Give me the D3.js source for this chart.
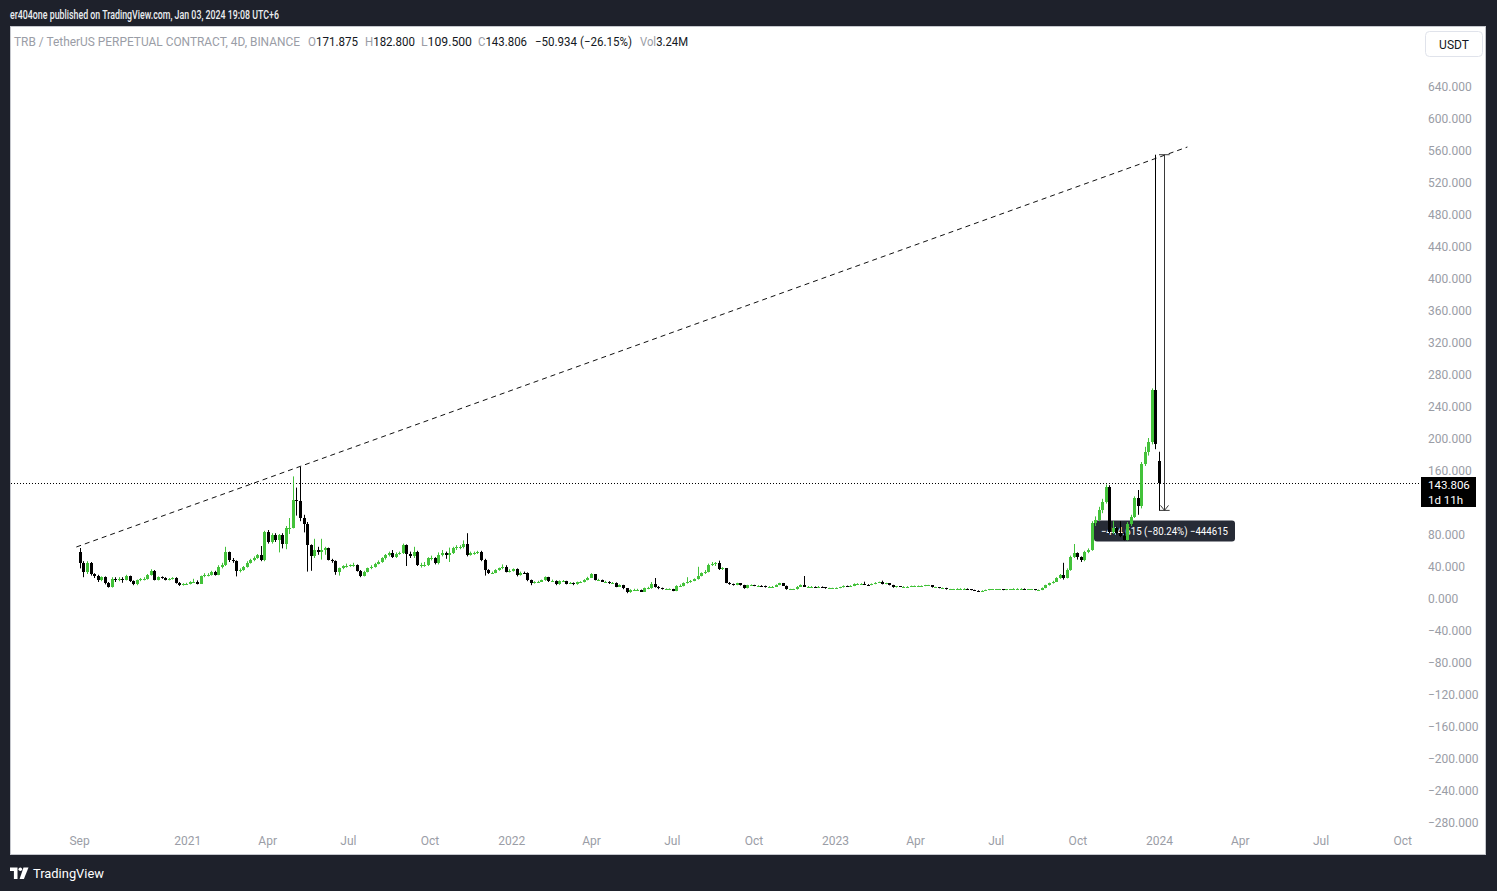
<!DOCTYPE html>
<html>
<head>
<meta charset="utf-8">
<script src="https://cdn.jsdelivr.net/npm/d3@7"></script>
<style>
  body { margin: 0; background: #1e212b; }
  svg { display: block; font-family: Roboto, 'Liberation Sans', sans-serif; }
</style>
</head>
<body>
<script>
// TRB/USDT perp, 4D candles, first candle 2020-09-02, last 2024-01-01
const firstCandle = '2020-09-02'
const candleDays = 4
// open = previous close, except where the chart shows otherwise
const openOverrides = { 0: 57, 304: 171.875 }

const closes = [
  44, 32, 44, 30, 28, 22, 26, 19, 14, 24,
  22, 24, 23, 27, 21, 17, 22, 24, 24, 29,
  34, 23, 26, 25, 23, 24, 25, 19, 16, 17.5,
  17.5, 20, 20.5, 18, 27, 29, 29, 33, 29, 39,
  41, 57, 48, 46, 34, 35, 39, 44, 47, 50,
  54, 47, 83, 70, 79, 72, 79, 68, 87, 88,
  122, 121, 100, 93, 66, 52, 60, 58, 60, 62,
  48, 46, 32, 37, 40, 40, 41, 41, 34, 27.5,
  33, 37, 39, 42.5, 45, 49.6, 53.8, 56.7, 51.7, 55,
  56, 66, 55, 52, 58, 41, 41, 41, 49.6, 49.6,
  43.3, 53.8, 56, 54, 56, 62, 64, 64, 68, 54,
  56.7, 56.7, 58, 48, 35, 31.7, 31.7, 35, 37, 39,
  33, 34, 36, 28.8, 31.7, 31, 22.5, 18.3, 20, 20.5,
  22, 25.8, 21.7, 21.7, 17, 21, 21, 18, 19, 17,
  19.6, 20, 22.5, 25.4, 29.6, 22.5, 22.5, 20.4, 20.4, 18.3,
  19, 14.2, 16, 12, 7, 10, 10, 10, 8, 12,
  12, 17, 14, 12, 11, 11, 11, 9, 15, 15,
  18.3, 19.6, 21.7, 23.3, 27.5, 30.8, 33, 41.3, 42.5, 43.3,
  36, 37, 19.2, 17.5, 16.3, 18.3, 16.3, 12.1, 16, 16,
  15.4, 15.4, 15, 13.3, 14, 14, 16.3, 18.3, 15.4, 10.8,
  10.8, 10.8, 14.2, 16.3, 14.2, 14.2, 14.2, 13.3, 14.2, 13.3,
  12, 12, 12, 12.5, 13.3, 15, 14.2, 15, 17.5, 17.5,
  17.5, 16.7, 16.3, 17.5, 19.2, 19.6, 17.5, 18.3, 16.3, 13.3,
  14.5, 14.2, 14.2, 14.2, 15, 15, 15, 15, 15.8, 15.8,
  13.3, 13.3, 12.5, 12.5, 10.8, 10.8, 10.8, 11.7, 11.7, 11.7,
  10.8, 10, 9.2, 8.8, 9.2, 10, 10.8, 10.8, 10.8, 10.8,
  10, 10.8, 10.8, 11.7, 11.7, 11.7, 10.8, 10.8, 10.8, 10,
  10, 12.5, 15.8, 18.3, 20.4, 24.6, 28.8, 25, 35, 51.7,
  55.8, 50.8, 47.5, 57.9, 60, 93.3, 97.5, 110, 120.4, 139,
  83, 87, 81, 77, 73, 93, 101.7, 124.6, 114.6, 168,
  183, 195, 260, 193, 143.806
]

const highs = [
  62.5, 46, 46, 45, 31, 29, 27, 27, 20, 26,
  26, 26, 26, 29, 28, 22, 23, 25, 26, 30,
  36, 35, 27, 27, 26, 25, 26, 26, 20, 18.5,
  19, 21, 24, 22, 28, 31, 31, 34, 34, 41,
  44, 64, 58, 50, 47, 37, 40, 46, 49, 52,
  55, 65, 84, 85, 81, 81, 80, 81, 90, 100,
  152, 138, 164, 104, 95, 67, 74, 64, 74, 64,
  63, 49, 47, 38, 41, 43, 42, 44, 42, 35,
  34, 38, 41, 44, 47, 51, 55, 58, 60, 57,
  58, 68, 67, 58, 64, 59, 44, 45, 51, 53,
  51, 57, 60, 58, 63, 64, 66, 66, 72, 81,
  58, 58, 59, 59, 49, 36, 33, 36, 38, 42,
  41, 36, 37, 37, 33, 33, 32, 23, 21, 21.5,
  23, 27, 26.5, 23, 22, 22, 22.5, 21.5, 20, 19.5,
  20.5, 21, 23.5, 26.5, 31, 30, 24, 23, 21.5, 21,
  20, 19.5, 17, 16.5, 12.5, 11, 11.5, 11.5, 10.5, 13,
  14, 20, 25, 15, 13, 12, 12, 11.5, 16, 17,
  19.5, 26, 22.5, 24.5, 39, 32, 35, 43, 45, 45,
  46.7, 38.5, 37.5, 20, 18, 19, 18.5, 16.5, 16.5, 17,
  16.5, 16, 16, 15.5, 14.8, 15, 17, 19, 18.8, 15.6,
  11.5, 11.5, 15, 17, 27.5, 15, 15, 14.5, 15, 14.5,
  13.5, 12.8, 12.8, 13.2, 14, 15.8, 15.5, 16, 18.3, 18.5,
  18.5, 20.4, 17.3, 18.2, 19.8, 20.4, 21.7, 19, 18.7, 16.5,
  15, 15, 14.8, 14.8, 15.5, 15.6, 15.6, 15.7, 16.4, 16.4,
  16, 14, 13.6, 13.1, 12.8, 11.4, 11.4, 12.2, 12.2, 12.2,
  12, 11, 10.3, 9.6, 9.7, 10.5, 11.3, 11.3, 11.3, 11.3,
  11, 11.2, 11.3, 12.2, 12.2, 12.2, 12, 11.3, 11.3, 11,
  10.6, 13.2, 16.6, 19.2, 21.5, 26, 30, 44, 37, 53,
  67.5, 57, 52, 59, 62, 96, 102, 114, 124, 142,
  141, 96, 89, 96, 82, 95, 104, 127, 135, 170,
  189, 200, 262, 554.115, 182.8
]

const lows = [
  37, 26, 30, 28, 25, 20, 21, 17, 13, 13,
  20, 21, 19, 22, 20, 16, 16, 21, 22, 23,
  28, 22, 22, 24, 22, 22, 23, 18, 15, 15.5,
  16.5, 17, 19, 17, 17.5, 26, 27, 28, 28, 28.5,
  37, 40, 45, 44, 27, 32, 34, 38, 43, 46,
  49, 46, 46, 68, 68, 70, 57, 62, 61, 80,
  87, 103, 96, 82, 33, 34, 50, 54, 48, 54,
  47, 44, 29, 28, 36, 38, 39, 39, 33, 26,
  27, 32, 36, 38, 42, 44, 48, 52, 50, 50,
  54, 55, 40, 50, 50, 40, 38, 39, 40, 47,
  42, 42, 52, 49, 45, 55, 60, 61, 62, 52,
  53, 54, 55, 46, 28, 30, 30, 31, 34, 36,
  32, 32, 33, 27, 28, 30, 21, 16, 18, 19,
  20, 21.5, 20, 20.5, 16, 16.5, 20, 17, 17.5, 16,
  16.5, 19, 19.5, 22, 25, 22, 21.5, 20, 19.5, 17.5,
  18, 13.5, 14, 11, 6, 6.5, 9, 9, 7.5, 7.5,
  11, 11.5, 13, 11, 10.5, 10, 10, 8.5, 8.5, 14,
  14.5, 18, 19, 21, 23, 27, 30, 32, 40, 40,
  35, 35, 18.5, 16.5, 15.5, 16, 15.5, 11.5, 12, 15,
  14.8, 14.8, 14.5, 13, 13, 13.5, 13.8, 16, 15, 10.3,
  10.2, 10.2, 10.5, 14, 13.8, 13.5, 13.5, 12.8, 13, 12.8,
  11.5, 11.5, 11.5, 11.8, 12.2, 13, 13.8, 14, 14.8, 16.8,
  16.8, 16.2, 15.8, 16, 17.2, 18.8, 17, 17.2, 15.8, 12.8,
  13, 13.8, 13.7, 13.7, 14, 14.5, 14.5, 14.5, 14.8, 15.2,
  13, 12.8, 12.1, 12, 10.4, 10.3, 10.3, 10.5, 11.2, 11.2,
  10.4, 9.6, 8.8, 8.3, 8.5, 9, 9.7, 10.3, 10.3, 10.3,
  9.7, 9.8, 10.3, 10.6, 11.2, 11.2, 10.4, 10.3, 10.3, 9.6,
  9.5, 9.8, 12.2, 15.5, 18, 20, 24, 23, 24.5, 34,
  50, 48, 45, 46, 56, 59, 90, 96, 106, 118,
  81, 80, 79, 76, 72, 72, 90, 100, 104, 112,
  165, 178, 192, 186, 109.5
]

const priceTicks = [640, 600, 560, 520, 480, 440, 400, 360, 320, 280, 240, 200, 160, 120, 80, 40, 0,
  -40, -80, -120, -160, -200, -240, -280]
const timeTicks = ['2020-09-01', '2021-01-01', '2021-04-01', '2021-07-01', '2021-10-01', '2022-01-01',
  '2022-04-01', '2022-07-01', '2022-10-01', '2023-01-01', '2023-04-01', '2023-07-01', '2023-10-01',
  '2024-01-01', '2024-04-01', '2024-07-01', '2024-10-01']
const timeLabels = ['Sep', '2021', 'Apr', 'Jul', 'Oct', '2022', 'Apr', 'Jul', 'Oct', '2023', 'Apr',
  'Jul', 'Oct', '2024', 'Apr', 'Jul', 'Oct']

// drawings on the chart
const trendLine = [{ date: '2020-08-29', price: 63.75 }, { date: '2024-02-02', price: 563.75 }]
const lastPrice = 143.806
const measure = { from: '2024-01-01', to: '2024-01-13', high: 554.115, low: 109.5 }

const W = 1497, H = 891
const parse = d3.utcParse('%Y-%m-%d')
const green = '#43c23a'
const dark = '#131722'
const muted = '#9a9da6'

const svg = d3.select('body').append('svg').attr('width', W).attr('height', H)
svg.append('rect').attr('width', W).attr('height', H).attr('fill', '#1e212b')

// header
svg.append('text')
  .attr('x', 10).attr('y', 19)
  .attr('fill', '#eceef1').attr('font-size', 12.5).attr('font-weight', 500)
  .attr('textLength', 269).attr('lengthAdjust', 'spacingAndGlyphs')
  .text('er404one published on TradingView.com, Jan 03, 2024 19:08 UTC+6')

// white chart panel
svg.append('rect')
  .attr('x', 10.5).attr('y', 26.5).attr('width', 1475).attr('height', 828)
  .attr('fill', '#fff').attr('stroke', '#c5c7cd')

const x = d3.scaleUtc()
  .domain([parse('2020-09-01'), parse('2024-01-01')])
  .range([79, 1159])
const y = d3.scaleLinear().domain([0, 640]).range([598, 86])

svg.append('clipPath').attr('id', 'plot')
  .append('rect').attr('x', 11).attr('y', 27).attr('width', 1408).attr('height', 800)
const plot = svg.append('g').attr('clip-path', 'url(#plot)')

const yLast = Math.round(y(lastPrice)) + 0.5

// price axis (labels under the last-price tag are hidden, as on the chart)
const yAxis = svg.append('g')
  .attr('transform', 'translate(1428,1)')
  .call(d3.axisRight(y).tickValues(priceTicks).tickFormat(d3.format('.3f')).tickSize(0).tickPadding(0))
yAxis.select('.domain').remove()
yAxis.selectAll('.tick').filter(d => y(d) > yLast - 10 && y(d) < yLast + 27).remove()
yAxis.selectAll('text').attr('fill', muted).attr('font-size', 12).attr('font-family', 'Roboto, sans-serif')

// time axis
const xAxis = svg.append('g')
  .attr('transform', 'translate(0,836)')
  .call(d3.axisBottom(x).tickValues(timeTicks.map(parse)).tickFormat((d, i) => timeLabels[i]).tickSize(0).tickPadding(0))
xAxis.select('.domain').remove()
xAxis.selectAll('text').attr('fill', muted).attr('font-size', 12).attr('font-family', 'Roboto, sans-serif')

// trend line
plot.append('line')
  .attr('x1', x(parse(trendLine[0].date))).attr('y1', y(trendLine[0].price))
  .attr('x2', x(parse(trendLine[1].date))).attr('y2', y(trendLine[1].price))
  .attr('stroke', '#111').attr('stroke-width', 1).attr('stroke-dasharray', '5,4')

// last price dotted line
plot.append('line')
  .attr('x1', 11).attr('x2', 1421).attr('y1', yLast).attr('y2', yLast)
  .attr('stroke', '#000').attr('stroke-dasharray', '1,2')

// price range measure
const mx1 = x(parse(measure.from)), mx2 = x(parse(measure.to))
const mxc = Math.round((mx1 + mx2) / 2) + 0.5
const myTop = y(measure.high), myBot = y(measure.low)
const mg = plot.append('g').attr('stroke', '#3a3a3a').attr('stroke-width', 1).attr('fill', 'none')
mg.append('line').attr('x1', mx1).attr('x2', mx2).attr('y1', myTop).attr('y2', myTop)
mg.append('line').attr('x1', mx1).attr('x2', mx2).attr('y1', myBot).attr('y2', myBot)
mg.append('line').attr('x1', mxc).attr('x2', mxc).attr('y1', myTop).attr('y2', myBot)
mg.append('path').attr('d', `M${mxc - 4},${myBot - 5}L${mxc},${myBot}L${mxc + 4},${myBot - 5}`)

const diff = measure.low - measure.high
const pct = diff / measure.high * 100
const fmt3 = d3.format('.3f'), fmt2 = d3.format('.2f')
const labelText = `${fmt3(diff)} (${fmt2(pct)}%) ${d3.format('d')(Math.round(diff * 1000))}`
const lw = 141
plot.append('rect')
  .attr('x', mxc - lw / 2).attr('y', myBot + 10).attr('width', lw).attr('height', 21).attr('rx', 3)
  .attr('fill', '#272b36')
plot.append('text')
  .attr('x', mxc).attr('y', myBot + 24.5).attr('text-anchor', 'middle')
  .attr('fill', '#fff').attr('font-size', 11)
  .attr('textLength', 127).attr('lengthAdjust', 'spacingAndGlyphs')
  .text(labelText)

// candles
const candles = closes.map((c, i) => ({
  date: d3.utcDay.offset(parse(firstCandle), i * candleDays),
  open: i in openOverrides ? openOverrides[i] : closes[i - 1],
  high: highs[i],
  low: lows[i],
  close: c
}))
const step = x(d3.utcDay.offset(parse(firstCandle), candleDays)) - x(parse(firstCandle))
const bw = Math.round(step * 0.8)
const cx = d => Math.round(x(d.date)) + 0.5

const cg = plot.selectAll('g.candle').data(candles).enter().append('g')
  .attr('class', 'candle')
  .attr('fill', d => d.close >= d.open ? green : '#000')
  .attr('stroke', d => d.close >= d.open ? green : '#000')
cg.append('line')
  .attr('x1', cx).attr('x2', cx)
  .attr('y1', d => y(d.high)).attr('y2', d => y(d.low))
  .attr('stroke-width', 1)
cg.append('rect')
  .attr('x', d => cx(d) - bw / 2)
  .attr('y', d => y(Math.max(d.open, d.close)))
  .attr('width', bw)
  .attr('height', d => Math.max(1, Math.abs(y(d.open) - y(d.close))))
  .attr('stroke', 'none')
  .attr('shape-rendering', 'crispEdges')

// last price label on axis
svg.append('rect').attr('x', 1421).attr('y', yLast - 6.5).attr('width', 55).attr('height', 30).attr('fill', '#000')
svg.append('text').attr('x', 1428).attr('y', yLast + 5.5).attr('fill', '#fff').attr('font-size', 11.5)
  .text(fmt3(lastPrice))
svg.append('text').attr('x', 1428).attr('y', yLast + 20).attr('fill', '#fff').attr('font-size', 11.5)
  .text('1d 11h')

// currency button
svg.append('rect').attr('x', 1425.5).attr('y', 31.5).attr('width', 57).attr('height', 25).attr('rx', 4)
  .attr('fill', '#fff').attr('stroke', '#e0e3eb')
svg.append('text').attr('x', 1454).attr('y', 48.5).attr('text-anchor', 'middle')
  .attr('fill', dark).attr('font-size', 12).text('USDT')

// legend
const legend = [
  { x: 14, w: 286, parts: [['TRB / TetherUS PERPETUAL CONTRACT, 4D, BINANCE', muted]] },
  { x: 308, w: 50, parts: [['O', muted], ['171.875', dark]] },
  { x: 365, w: 50, parts: [['H', muted], ['182.800', dark]] },
  { x: 421, w: 51, parts: [['L', muted], ['109.500', dark]] },
  { x: 478, w: 49, parts: [['C', muted], ['143.806', dark]] },
  { x: 535, w: 97, parts: [['\u221250.934 (\u221226.15%)', dark]] },
  { x: 640, w: 48, parts: [['Vol', muted], ['3.24M', dark]] }
]
legend.forEach(l => {
  const t = svg.append('text').attr('x', l.x).attr('y', 46).attr('font-size', 12)
    .attr('textLength', l.w).attr('lengthAdjust', 'spacingAndGlyphs')
  l.parts.forEach(p => t.append('tspan').attr('fill', p[1]).text(p[0]))
})

// TradingView footer logo
const logo = svg.append('g').attr('fill', '#fff')
logo.append('path').attr('d', 'M10,867.5h7.5v11.5h-3.6v-8h-3.9z')
logo.append('circle').attr('cx', 20.3).attr('cy', 869.3).attr('r', 1.8)
logo.append('path').attr('d', 'M23.5,867.5h5l-4.6,11.5h-4.3z')
svg.append('text').attr('x', 33).attr('y', 878).attr('fill', '#fff').attr('font-size', 13.5)
  .attr('textLength', 71).attr('lengthAdjust', 'spacingAndGlyphs').text('TradingView')
</script>
</body>
</html>
